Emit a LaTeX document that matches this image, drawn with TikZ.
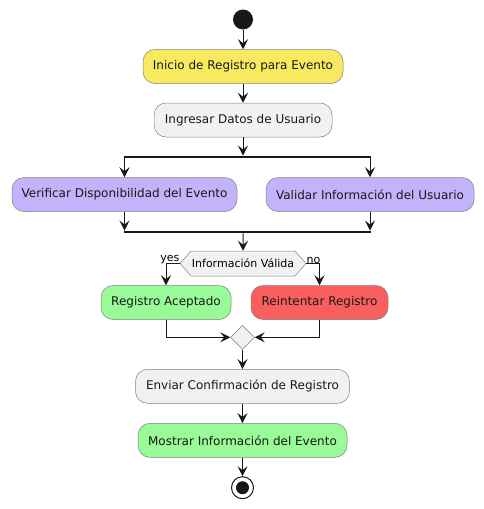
\documentclass[tikz,border=0pt]{standalone}
\usepackage{fontspec}
\setmainfont{DejaVu Sans}
\usetikzlibrary{arrows.meta,positioning,shapes.geometric,shapes.symbols}
\definecolor{lineC}{HTML}{181818}
\definecolor{borderC}{HTML}{808080}
\definecolor{grayF}{HTML}{F1F1F1}
\definecolor{yellowF}{HTML}{F8EA60}
\definecolor{purpleF}{HTML}{C3B3FA}
\definecolor{greenF}{HTML}{98FB98}
\definecolor{redF}{HTML}{FA5F5F}

\begin{document}
\begin{tikzpicture}
  [x=1pt,y=-1pt,>={Stealth[length=10pt,width=10pt,inset=4pt]},%全局设置:像素坐标与箭头样式
   font=\fontsize{12}{14}\selectfont,
   action/.style={rectangle,rounded corners=12pt,draw=borderC,line width=0.5pt,
                  fill=grayF,minimum height=34pt,inner sep=0pt,text=lineC},%活动节点
   bar/.style={rectangle,fill=lineC,minimum width=247pt,minimum height=2.5pt,inner sep=0pt},%分叉/汇合横条
   choice/.style={signal,signal to=west and east,signal pointer angle=97,draw=borderC,
                  line width=0.5pt,fill=grayF,minimum width=126pt,minimum height=25pt,
                  inner sep=0pt,font=\fontsize{11}{13}\selectfont},%判断节点
   merge/.style={diamond,draw=borderC,line width=0.5pt,fill=grayF,minimum size=24pt,inner sep=0pt},
   flow/.style={->,draw=lineC,line width=1pt},
   every label/.style={font=\fontsize{11}{13}\selectfont}]

  \useasboundingbox (0,0) rectangle (484,509);

  % 主干
  \node [circle,fill=lineC,minimum size=20pt,inner sep=0pt] (start) at (243,19.5) {};
  \node [action,fill=yellowF,minimum width=200pt] (inicio)    at (243,66.5)  {Inicio de Registro para Evento};
  \node [action,minimum width=178pt]              (ingresar)  at (243,120)   {Ingresar Datos de Usuario};
  \node [bar]                                     (fork)      at (247.5,157) {};

  % 并行分支
  \node [action,fill=purpleF,minimum width=225pt] (verificar) at (124.5,194.5) {Verificar Disponibilidad del Evento};
  \node [action,fill=purpleF,minimum width=208pt] (validar)   at (370,194.5)   {Validar Información del Usuario};
  \node [bar]                                     (join)      at (247.5,232)   {};

  % 判断
  \node [choice]                                  (valida)    at (243,263.5) {Información Válida};
  \node [action,fill=greenF,minimum width=130pt]  (aceptado)  at (166,302.5) {Registro Aceptado};
  \node [action,fill=redF,minimum width=137pt]    (reintentar) at (319.5,302.5) {Reintentar Registro};
  \node [merge]                                   (unir)      at (242.5,337.3) {};

  \node [action,minimum width=214pt]              (enviar)    at (242.5,386.3) {Enviar Confirmación de Registro};
  \node [action,fill=greenF,minimum width=209pt]  (mostrar)   at (242.5,440.3) {Mostrar Información del Evento};
  \node [circle,draw=lineC,line width=1pt,fill=white,minimum size=22pt,inner sep=0pt] (fin) at (242.5,487.7) {};
  \node [circle,fill=lineC,minimum size=13pt,inner sep=0pt] (finin) at (fin) {};

  % 标签
  \node [font=\fontsize{11}{13}\selectfont,anchor=south east,inner sep=0pt] (yes) at (valida.west) {yes};
  \node [font=\fontsize{11}{13}\selectfont,anchor=south west,inner sep=0pt] (no)  at (valida.east) {no};

  % 连线
  \draw [flow] (start) -- (inicio);
  \draw [flow] (inicio) -- (ingresar);
  \draw [flow] (ingresar) -- (ingresar |- fork.north);
  \draw [flow] (verificar |- fork.south) -- (verificar);
  \draw [flow] (validar |- fork.south) -- (validar);
  \draw [flow] (verificar) -- (verificar |- join.north);
  \draw [flow] (validar) -- (validar |- join.north);
  \draw [flow] (valida |- join.south) -- (valida);
  \draw [flow] (valida.west) -| (aceptado);
  \draw [flow] (valida.east) -| (reintentar);
  \draw [flow] (aceptado) |- (unir);
  \draw [flow] (reintentar) |- (unir);
  \draw [flow] (unir) -- (enviar);
  \draw [flow] (enviar) -- (mostrar);
  \draw [flow] (mostrar) -- (fin);
\end{tikzpicture}
\end{document}
